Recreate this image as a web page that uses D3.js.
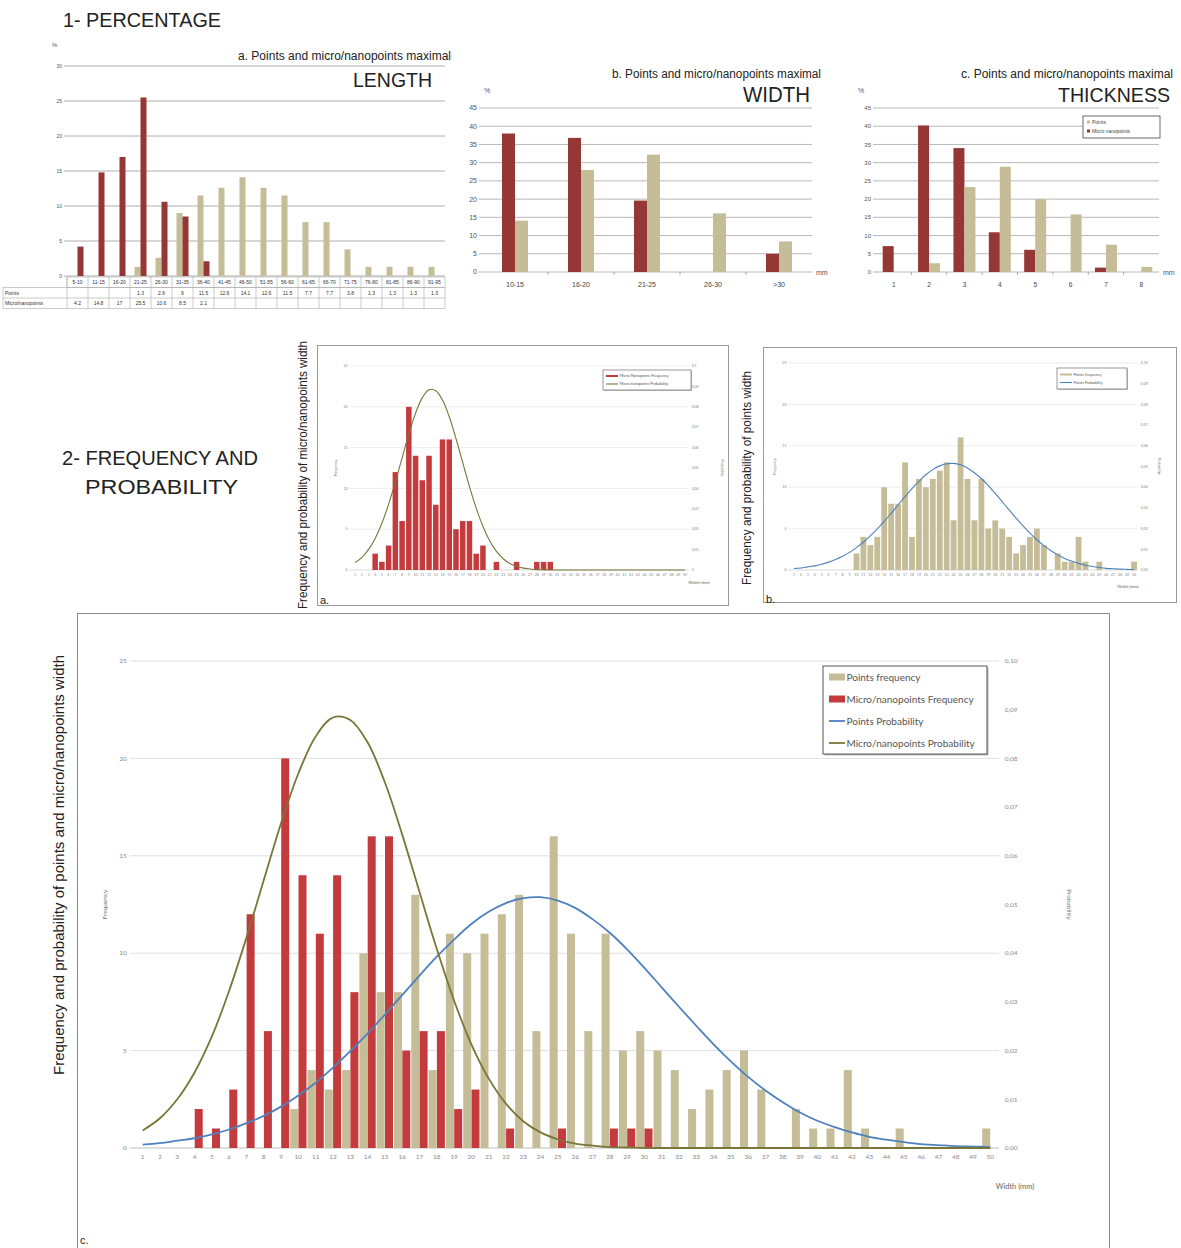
<!DOCTYPE html>
<html>
<head>
<meta charset="utf-8">
<script src="https://cdn.jsdelivr.net/npm/d3@7"></script>
<style>
  body { margin: 0; background: #fff; }
  svg { display: block; }
</style>
</head>
<body>
<div id="fig"></div>
<script>
// ---- data ----

// 1a. maximal length (%)
let lengthCats = ['5-10', '11-15', '16-20', '21-25', '26-30', '31-35', '36-40', '41-45', '46-50',
  '51-55', '56-60', '61-65', '66-70', '71-75', '76-80', '81-85', '86-90', '91-95'];
let lengthPoints = [null, null, null, 1.3, 2.6, 9, 11.5, 12.6, 14.1, 12.6, 11.5, 7.7, 7.7, 3.8, 1.3, 1.3, 1.3, 1.3];
let lengthMicro = [4.2, 14.8, 17, 25.5, 10.6, 8.5, 2.1, null, null, null, null, null, null, null, null, null, null, null];
let lengthTicks = [0, 5, 10, 15, 20, 25, 30];

// 1b. maximal width (%)
let widthCats = ['10-15', '16-20', '21-25', '26-30', '>30'];
let widthMicro = [38, 36.8, 19.6, 0, 5];
let widthPoints = [14.1, 28, 32.2, 16.1, 8.4];

// 1c. maximal thickness (%)
let thickCats = ['1', '2', '3', '4', '5', '6', '7', '8'];
let thickMicro = [7.1, 40.2, 34, 10.9, 6.1, 0, 1.2, 0];
let thickPoints = [0, 2.4, 23.3, 28.9, 20, 15.8, 7.5, 1.4];
let pctTicks = [0, 5, 10, 15, 20, 25, 30, 35, 40, 45];

// 2. width in mm: frequency and probability
let widthMm = [1, 2, 3, 4, 5, 6, 7, 8, 9, 10, 11, 12, 13, 14, 15, 16, 17, 18, 19, 20, 21, 22, 23, 24, 25,
  26, 27, 28, 29, 30, 31, 32, 33, 34, 35, 36, 37, 38, 39, 40, 41, 42, 43, 44, 45, 46, 47, 48, 49, 50];
let pointsFreq = [0, 0, 0, 0, 0, 0, 0, 0, 0, 2, 4, 3, 4, 10, 8, 8, 13, 4, 11, 10, 11, 12, 13, 6, 16,
  11, 6, 11, 5, 6, 5, 4, 2, 3, 4, 5, 3, 0, 2, 1, 1, 4, 1, 0, 1, 0, 0, 0, 0, 1];
let microFreq = [0, 0, 0, 2, 1, 3, 12, 6, 20, 14, 11, 14, 8, 16, 16, 5, 6, 6, 2, 3, 0, 1, 0, 0, 1,
  0, 0, 1, 1, 1, 0, 0, 0, 0, 0, 0, 0, 0, 0, 0, 0, 0, 0, 0, 0, 0, 0, 0, 0, 0];
let pointsProb = [0.0007, 0.0010, 0.0015, 0.0020, 0.0028, 0.0038, 0.0051, 0.0066, 0.0085, 0.0108,
  0.0134, 0.0165, 0.0199, 0.0235, 0.0274, 0.0314, 0.0354, 0.0393, 0.0428, 0.0460,
  0.0485, 0.0503, 0.0513, 0.0515, 0.0508, 0.0493, 0.0470, 0.0442, 0.0408, 0.0370,
  0.0330, 0.0290, 0.0251, 0.0213, 0.0178, 0.0146, 0.0118, 0.0094, 0.0073, 0.0056,
  0.0043, 0.0032, 0.0023, 0.0017, 0.0012, 0.0008, 0.0006, 0.0004, 0.0003, 0.0002];
let microProb = [0.0036, 0.0061, 0.0100, 0.0155, 0.0229, 0.0323, 0.0432, 0.0550, 0.0667, 0.0769,
  0.0845, 0.0884, 0.0879, 0.0833, 0.0751, 0.0644, 0.0526, 0.0409, 0.0303, 0.0213,
  0.0143, 0.0091, 0.0055, 0.0032, 0.0018, 0.0009, 0.0005, 0.0002, 0.0001, 0,
  0, 0, 0, 0, 0, 0, 0, 0, 0, 0, 0, 0, 0, 0, 0, 0, 0, 0, 0, 0];
let freqTicks = [0, 5, 10, 15, 20, 25];
let probTicks = [0, 0.01, 0.02, 0.03, 0.04, 0.05, 0.06, 0.07, 0.08, 0.09, 0.10];

// colours
const RED_DARK = '#953735', TAN = '#C4BD97', RED = '#C43B3E', BLUE = '#4F81BD', OLIVE = '#7A7538';
const SANS = "'Liberation Sans', Arial, sans-serif";
const NARROW = "'Liberation Sans Narrow', 'Liberation Sans', Arial, sans-serif";
const CAL = "Lato, 'Open Sans', sans-serif";

let svg = d3.select('#fig')
  .append('svg')
  .attr('width', 1181)
  .attr('height', 1248)
  .style('font-family', SANS);

svg.append('rect').attr('width', 1181).attr('height', 1248).attr('fill', '#fff');

function txt(g, x, y, s, size, opts) {
  opts = opts || {};
  let t = g.append('text')
    .attr('x', x).attr('y', y)
    .attr('font-size', size)
    .attr('fill', opts.fill || '#222')
    .attr('text-anchor', opts.anchor || 'start')
    .style('font-family', opts.font || SANS)
    .text(s);
  if (opts.len) t.attr('textLength', opts.len).attr('lengthAdjust', 'spacingAndGlyphs');
  if (opts.rot) t.attr('transform', 'rotate(' + opts.rot + ',' + x + ',' + y + ')');
  if (opts.dy) t.attr('dy', opts.dy);
  return t;
}

// grouped percentage bar chart (top row)
function pctChart(c) {
  let g = svg.append('g');
  let x = d3.scaleBand().domain(c.cats).range([c.x0, c.x1]);
  let y = d3.scaleLinear().domain([0, c.yMax]).range([c.yb, c.yt]);

  g.selectAll('.grid').data(c.ticks).enter().append('line')
    .attr('x1', c.x0 - 3).attr('x2', c.x1)
    .attr('y1', d => y(d)).attr('y2', d => y(d))
    .attr('stroke', c.gridColor).attr('stroke-width', 0.8);

  g.selectAll('.tl').data(c.ticks).enter().append('text')
    .attr('x', c.x0 - 5).attr('y', d => y(d)).attr('dy', '0.35em')
    .attr('text-anchor', 'end').attr('font-size', c.tickSize).attr('fill', '#555')
    .text(d => d);

  c.series.forEach((s, i) => {
    let n = c.series.length;
    g.selectAll('.b' + i)
      .data(s.values.map((v, j) => ({ v: v, cat: c.cats[j] })).filter(d => d.v))
      .enter().append('rect')
      .attr('x', d => x(d.cat) + x.bandwidth() / 2 + (i - n / 2) * c.barW)
      .attr('y', d => y(d.v))
      .attr('width', c.barW)
      .attr('height', d => y(0) - y(d.v))
      .attr('fill', s.color);
  });
  return { g: g, x: x, y: y };
}

// ---------- section 1 ----------
txt(svg, 63, 27, '1- PERCENTAGE', 21, { font: NARROW, len: 158 });

// a. length
let lenC = pctChart({
  cats: lengthCats, x0: 67, x1: 445, yb: 276, yt: 66, yMax: 30, ticks: lengthTicks,
  gridColor: '#9a9a9a', tickSize: 5, barW: 6,
  series: [{ values: lengthPoints, color: TAN }, { values: lengthMicro, color: RED_DARK }]
});
txt(svg, 52, 47, '%', 6, { fill: '#555' });
txt(svg, 451, 60, 'a. Points and micro/nanopoints maximal', 12, { anchor: 'end', len: 213 });
txt(svg, 432, 87, 'LENGTH', 21, { anchor: 'end', len: 79 });

// the data table under the length chart
let tbl = svg.append('g').attr('font-size', 5).attr('fill', '#333');
let rowY = [277, 287.5, 298, 308.5];
let step = lenC.x.step();
tbl.append('rect').attr('x', lenC.x(lengthCats[0])).attr('y', rowY[0]).attr('width', 445 - 67).attr('height', rowY[1] - rowY[0])
  .attr('fill', 'none').attr('stroke', '#aaa').attr('stroke-width', 0.6);
tbl.append('rect').attr('x', 3).attr('y', rowY[1]).attr('width', 442).attr('height', rowY[3] - rowY[1])
  .attr('fill', 'none').attr('stroke', '#aaa').attr('stroke-width', 0.6);
tbl.append('line').attr('x1', 3).attr('x2', 445).attr('y1', rowY[2]).attr('y2', rowY[2]).attr('stroke', '#aaa').attr('stroke-width', 0.6);
tbl.selectAll('.vl').data(lengthCats).enter().append('line')
  .attr('x1', d => lenC.x(d)).attr('x2', d => lenC.x(d))
  .attr('y1', rowY[0]).attr('y2', rowY[3])
  .attr('stroke', '#aaa').attr('stroke-width', 0.6);
tbl.selectAll('.cl').data(lengthCats).enter().append('text')
  .attr('x', d => lenC.x(d) + step / 2).attr('y', rowY[0] + 7).attr('text-anchor', 'middle')
  .text(d => d);
tbl.append('text').attr('x', 5).attr('y', rowY[1] + 7).text('Points');
tbl.append('text').attr('x', 5).attr('y', rowY[2] + 7).text('Micro/nanopoints');
tbl.selectAll('.pv').data(lengthPoints.map((v, j) => ({ v: v, cat: lengthCats[j] })).filter(d => d.v)).enter().append('text')
  .attr('x', d => lenC.x(d.cat) + step / 2).attr('y', rowY[1] + 7).attr('text-anchor', 'middle')
  .text(d => d.v);
tbl.selectAll('.mv').data(lengthMicro.map((v, j) => ({ v: v, cat: lengthCats[j] })).filter(d => d.v)).enter().append('text')
  .attr('x', d => lenC.x(d.cat) + step / 2).attr('y', rowY[2] + 7).attr('text-anchor', 'middle')
  .text(d => d.v);

// b. width
let widC = pctChart({
  cats: widthCats, x0: 482, x1: 812, yb: 272, yt: 108, yMax: 45, ticks: pctTicks,
  gridColor: '#a6a6a6', tickSize: 7, barW: 13,
  series: [{ values: widthMicro, color: RED_DARK }, { values: widthPoints, color: TAN }]
});
widC.g.selectAll('.xl').data(widthCats).enter().append('text')
  .attr('x', d => widC.x(d) + widC.x.bandwidth() / 2).attr('y', 287)
  .attr('text-anchor', 'middle').attr('font-size', 7).attr('fill', '#444').text(d => d);
widC.g.selectAll('.xt').data(widthCats.slice(1)).enter().append('line')
  .attr('x1', d => widC.x(d)).attr('x2', d => widC.x(d)).attr('y1', 272).attr('y2', 275)
  .attr('stroke', '#999').attr('stroke-width', 0.8);
txt(svg, 484, 93, '%', 7, { fill: '#555' });
txt(svg, 816, 275, 'mm', 7, { fill: '#555' });
txt(svg, 821, 78, 'b. Points and micro/nanopoints maximal', 12, { anchor: 'end', len: 209 });
txt(svg, 810, 102, 'WIDTH', 22, { anchor: 'end', len: 67 });

// c. thickness
let thC = pctChart({
  cats: thickCats, x0: 876, x1: 1159, yb: 272, yt: 108, yMax: 45, ticks: pctTicks,
  gridColor: '#a6a6a6', tickSize: 6, barW: 11,
  series: [{ values: thickMicro, color: RED_DARK }, { values: thickPoints, color: TAN }]
});
thC.g.selectAll('.xl').data(thickCats).enter().append('text')
  .attr('x', d => thC.x(d) + thC.x.bandwidth() / 2).attr('y', 287)
  .attr('text-anchor', 'middle').attr('font-size', 6.5).attr('fill', '#444').text(d => d);
thC.g.selectAll('.xt').data(thickCats.slice(1)).enter().append('line')
  .attr('x1', d => thC.x(d)).attr('x2', d => thC.x(d)).attr('y1', 272).attr('y2', 275)
  .attr('stroke', '#999').attr('stroke-width', 0.8);
txt(svg, 858, 93, '%', 7, { fill: '#555' });
txt(svg, 1163, 275, 'mm', 7, { fill: '#555' });
txt(svg, 1173, 78, 'c. Points and micro/nanopoints maximal', 12, { anchor: 'end', len: 212 });
txt(svg, 1170, 102, 'THICKNESS', 21, { anchor: 'end', len: 112 });
// thickness legend
let tl = svg.append('g');
tl.append('rect').attr('x', 1083).attr('y', 116).attr('width', 77).attr('height', 22)
  .attr('fill', '#fff').attr('stroke', '#444').attr('stroke-width', 0.8);
tl.append('rect').attr('x', 1087).attr('y', 120.5).attr('width', 3).attr('height', 3).attr('fill', TAN);
tl.append('rect').attr('x', 1087).attr('y', 129.5).attr('width', 3).attr('height', 3).attr('fill', RED_DARK);
txt(tl, 1092, 124, 'Points', 5, { fill: '#444' });
txt(tl, 1092, 133, 'Micro nanopoints', 5, { fill: '#444' });

// ---------- section 2 ----------
txt(svg, 62, 465, '2- FREQUENCY AND', 21, { font: NARROW, len: 196 });
txt(svg, 85, 494, 'PROBABILITY', 21, { font: NARROW, len: 153 });

// frequency + probability chart
function freqChart(o) {
  let g = svg.append('g').style('font-family', CAL);
  let x = d3.scaleBand().domain(widthMm).range([o.x0, o.x1]);
  let yF = d3.scaleLinear().domain([0, 25]).range([o.yb, o.yt]);
  let yP = d3.scaleLinear().domain([0, 0.10]).range([o.yb, o.yt]);

  g.selectAll('.grid').data(freqTicks).enter().append('line')
    .attr('x1', o.x0 - o.fs * 0.6).attr('x2', o.x1)
    .attr('y1', d => yF(d)).attr('y2', d => yF(d))
    .attr('stroke', d => d === 0 ? '#bfbfbf' : '#e0e0e0').attr('stroke-width', o.gw);

  g.selectAll('.lt').data(freqTicks).enter().append('text')
    .attr('x', o.x0 - o.fs * 1.1).attr('y', d => yF(d)).attr('dy', '0.35em')
    .attr('text-anchor', 'end').attr('font-size', o.fs).attr('fill', '#8a8a8a')
    .text(d => d);

  g.selectAll('.rt').data(probTicks).enter().append('text')
    .attr('x', o.x1 + o.fs * 0.9).attr('y', d => yP(d)).attr('dy', '0.35em')
    .attr('font-size', o.fs).attr('fill', '#8a8a8a')
    .text(o.probFmt);

  g.selectAll('.xl').data(widthMm).enter().append('text')
    .attr('x', d => x(d) + x.bandwidth() / 2).attr('y', o.yb + o.fs * 1.7)
    .attr('text-anchor', 'middle').attr('font-size', o.fs).attr('fill', '#8a8a8a')
    .text(d => d);

  o.bars.forEach((b, i) => {
    g.selectAll('.bar' + i)
      .data(b.values.map((v, j) => ({ v: v, mm: widthMm[j] })).filter(d => d.v > 0))
      .enter().append('rect')
      .attr('x', d => x(d.mm) + b.dx)
      .attr('y', d => yF(d.v))
      .attr('width', b.w)
      .attr('height', d => yF(0) - yF(d.v))
      .attr('fill', b.color);
  });

  o.lines.forEach(l => {
    let line = d3.line()
      .x((d, j) => x(widthMm[j]) + x.bandwidth() / 2)
      .y(d => yP(d))
      .curve(d3.curveCatmullRom.alpha(0.5));
    g.append('path').datum(l.values)
      .attr('d', line).attr('fill', 'none')
      .attr('stroke', l.color).attr('stroke-width', o.lw);
  });

  txt(g, o.freqX, (o.yb + o.yt) / 2, 'Frequency', o.fs, { anchor: 'middle', rot: -90, fill: '#777', font: CAL });
  txt(g, o.probX, (o.yb + o.yt) / 2, 'Probability', o.fs, { anchor: 'middle', rot: 90, fill: '#777', font: CAL });
  txt(g, o.wX, o.wY, 'Width (mm)', o.fs * 1.15, { anchor: 'middle', fill: '#666', font: CAL });

  // legend
  let L = o.legend;
  g.append('rect').attr('x', L.x + L.sh).attr('y', L.y + L.sh).attr('width', L.w).attr('height', L.h).attr('fill', '#bbb');
  g.append('rect').attr('x', L.x).attr('y', L.y).attr('width', L.w).attr('height', L.h)
    .attr('fill', '#fff').attr('stroke', '#555').attr('stroke-width', L.sw);
  L.items.forEach((it, i) => {
    let cy = L.y + L.pad + L.gap * (i + 0.5);
    if (it.type === 'bar') {
      g.append('rect').attr('x', L.x + L.sx).attr('y', cy - L.sq / 2).attr('width', L.sl).attr('height', L.sq).attr('fill', it.color);
    } else {
      g.append('line').attr('x1', L.x + L.sx).attr('x2', L.x + L.sx + L.sl).attr('y1', cy).attr('y2', cy)
        .attr('stroke', it.color).attr('stroke-width', o.lw);
    }
    txt(g, L.x + L.sx + L.sl + 1.5, cy, it.label, L.fs, { dy: '0.35em', fill: '#555', font: CAL });
  });
  return g;
}

let fmtFull = d => d3.format('.2f')(d).replace('.', ',');
let fmtShort = d => (d === 0 ? '0' : String(+d.toFixed(2))).replace('.', ',');

// a. micro/nanopoints
svg.append('rect').attr('x', 317.5).attr('y', 345.5).attr('width', 411).attr('height', 260)
  .attr('fill', '#fff').attr('stroke', '#9a9a9a').attr('stroke-width', 1);
freqChart({
  x0: 351.6, x1: 688.4, yb: 570, yt: 366, fs: 3.6, gw: 0.6, lw: 1.1,
  probFmt: fmtShort, freqX: 337, probX: 721, wX: 699, wY: 584,
  bars: [{ values: microFreq, color: RED, dx: 0.6, w: 5.5 }],
  lines: [{ values: microProb, color: OLIVE }],
  legend: { x: 603, y: 370, w: 88, h: 20, sh: 0.8, sw: 0.6, pad: 2, gap: 8, sx: 3, sl: 12, sq: 2, fs: 3.8,
    items: [{ type: 'bar', color: RED, label: 'Micro/Nanopoints Frequency' },
      { type: 'line', color: OLIVE, label: 'Micro/nanopoints Probability' }] }
});
txt(svg, 307, 475, 'Frequency and probability of micro/nanopoints width', 13, { anchor: 'middle', rot: -90, len: 268, font: NARROW });
txt(svg, 320, 604, 'a.', 11);

// b. points
svg.append('rect').attr('x', 763.5).attr('y', 347.5).attr('width', 413).attr('height', 255)
  .attr('fill', '#fff').attr('stroke', '#9a9a9a').attr('stroke-width', 1);
freqChart({
  x0: 790.5, x1: 1137.5, yb: 570, yt: 363, fs: 3.6, gw: 0.6, lw: 1.1,
  probFmt: fmtFull, freqX: 776, probX: 1158, wX: 1128, wY: 588,
  bars: [{ values: pointsFreq, color: TAN, dx: 0.6, w: 5.8 }],
  lines: [{ values: pointsProb, color: BLUE }],
  legend: { x: 1057, y: 368, w: 70, h: 21, sh: 0.8, sw: 0.6, pad: 2.5, gap: 8, sx: 3, sl: 12, sq: 2, fs: 3.8,
    items: [{ type: 'bar', color: TAN, label: 'Points frequency' },
      { type: 'line', color: BLUE, label: 'Points Probability' }] }
});
txt(svg, 751, 478, 'Frequency and probability of points width', 13, { anchor: 'middle', rot: -90, len: 214, font: NARROW });
txt(svg, 766, 603, 'b.', 11);

// c. both together
svg.append('rect').attr('x', 77.5).attr('y', 613.5).attr('width', 1032).attr('height', 640)
  .attr('fill', '#fff').attr('stroke', '#8a8a8a').attr('stroke-width', 1);
freqChart({
  x0: 134, x1: 999, yb: 1148, yt: 661, fs: 6.5, gw: 1, lw: 1.8,
  probFmt: fmtFull, freqX: 107, probX: 1067, wX: 1015, wY: 1189,
  bars: [{ values: pointsFreq, color: TAN, dx: 0.5, w: 8 }, { values: microFreq, color: RED, dx: 8.8, w: 8 }],
  lines: [{ values: pointsProb, color: BLUE }, { values: microProb, color: OLIVE }],
  legend: { x: 823, y: 666, w: 164, h: 88, sh: 1.5, sw: 1, pad: 0, gap: 22, sx: 6, sl: 16, sq: 7, fs: 10,
    items: [{ type: 'bar', color: TAN, label: 'Points frequency' },
      { type: 'bar', color: RED, label: 'Micro/nanopoints Frequency' },
      { type: 'line', color: BLUE, label: 'Points Probability' },
      { type: 'line', color: OLIVE, label: 'Micro/nanopoints Probability' }] }
});
txt(svg, 64, 865, 'Frequency and probability of points and micro/nanopoints width', 14, { anchor: 'middle', rot: -90, len: 420, font: NARROW });
txt(svg, 80, 1244, 'c.', 11);
</script>
</body>
</html>
